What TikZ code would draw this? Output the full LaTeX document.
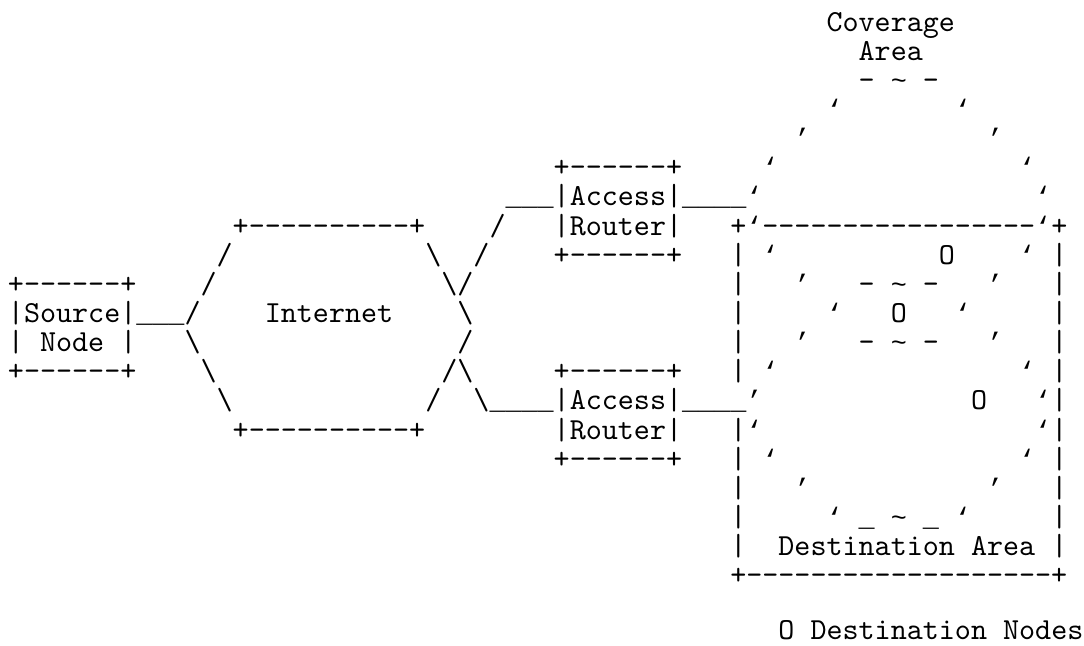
\documentclass[tikz,border=0pt]{standalone}
\usepackage{fontspec}
\setmonofont{lmmono10-regular}[Extension=.otf]
\newfontfamily\symfont{Liberation Mono}
% both faces advance 8.025pt per character at these sizes
\newcommand\sym[1]{{\symfont\fontsize{13.375pt}{14.575pt}\selectfont #1}}
\newcommand\us{\sym{\_}}
\newcommand\tl{\sym{\textasciitilde}}
\newcommand\ql{\sym{‘}}
\newcommand\qr{\sym{’}}
\tikzset{
  ascii/.style={anchor=base west, inner sep=0pt, outer sep=0pt,
    font=\ttfamily\fontsize{15.2857pt}{14.575pt}\selectfont, text=black}
}
% one run of characters at column #1, line #2
\newcommand\asc[4]{\node[ascii] (#3) at (#1,#2) {#4};}
\begin{document}
\begin{tikzpicture}[x=8.025pt, y=-14.575pt]
\fill[white] (-4pt,15.5pt) rectangle (538pt,-307pt);
\useasboundingbox (-4pt,15.5pt) rectangle (538pt,-307pt);

% coverage area of the upper access router
\asc{51}{0}{covTitle}{Coverage}
\asc{53}{1}{covTitleB}{Area}
\asc{53}{2}{covTop}{-\ \tl\ -}
\asc{51}{3}{covA}{\ql} \asc{59}{3}{covB}{\ql}
\asc{49}{4}{covC}{\qr} \asc{61}{4}{covD}{\qr}
\asc{47}{5}{covE}{\ql} \asc{63}{5}{covF}{\ql}
\asc{64}{6}{covG}{\ql}

% upper access router
\asc{34}{5}{arOneTop}{+------+}
\asc{31}{6}{arOneMid}{\us\us\us\textbar Access\textbar\us\us\us\us\ql}
\asc{34}{7}{arOneLow}{\textbar Router\textbar}
\asc{34}{8}{arOneBot}{+------+}

% internet cloud
\asc{14}{7}{netTop}{+----------+}
\asc{30}{7}{netLinkA}{/}
\asc{13}{8}{netL1}{/} \asc{26}{8}{netR1}{\textbackslash} \asc{29}{8}{netLinkB}{/}
\asc{12}{9}{netL2}{/} \asc{27}{9}{netR2}{\textbackslash/}
\asc{16}{10}{net}{Internet} \asc{28}{10}{netR3}{\textbackslash}
\asc{11}{11}{netL4}{\textbackslash} \asc{28}{11}{netR4}{/}
\asc{12}{12}{netL5}{\textbackslash} \asc{27}{12}{netR5}{/\textbackslash}
\asc{13}{13}{netL6}{\textbackslash} \asc{26}{13}{netR6}{/}
\asc{14}{14}{netBot}{+----------+}

% source node
\asc{0}{9}{srcTop}{+------+}
\asc{0}{10}{srcMid}{\textbar Source\textbar\us\us\us/}
\asc{0}{11}{srcLow}{\textbar\ Node\ \textbar}
\asc{0}{12}{srcBot}{+------+}

% lower access router
\asc{34}{12}{arTwoTop}{+------+}
\asc{29}{13}{arTwoMid}{\textbackslash\us\us\us\us\textbar Access\textbar\us\us\us\us\qr}
\asc{34}{14}{arTwoLow}{\textbar Router\textbar}
\asc{34}{15}{arTwoBot}{+------+}

% destination area box
\asc{45}{7}{dstTop}{+\ql-----------------\ql+}
\asc{45}{8}{dstL8}{\textbar} \asc{47}{8}{covH}{\ql} \asc{58}{8}{nodeA}{O} \asc{63}{8}{covI}{\ql} \asc{65}{8}{dstR8}{\textbar}
\asc{45}{9}{dstL9}{\textbar} \asc{49}{9}{covJ}{\qr} \asc{53}{9}{ringTop}{-\ \tl\ -} \asc{61}{9}{covK}{\qr} \asc{65}{9}{dstR9}{\textbar}
\asc{45}{10}{dstL10}{\textbar} \asc{51}{10}{ringL}{\ql} \asc{55}{10}{nodeB}{O} \asc{59}{10}{ringR}{\ql} \asc{65}{10}{dstR10}{\textbar}
\asc{45}{11}{dstL11}{\textbar} \asc{49}{11}{covL}{\qr} \asc{53}{11}{ringBot}{-\ \tl\ -} \asc{61}{11}{covM}{\qr} \asc{65}{11}{dstR11}{\textbar}
\asc{45}{12}{dstL12}{\textbar} \asc{47}{12}{areaA}{\ql} \asc{63}{12}{areaB}{\ql} \asc{65}{12}{dstR12}{\textbar}
\asc{60}{13}{nodeC}{O} \asc{64}{13}{dstR13}{\ql\textbar}
\asc{45}{14}{dstL14}{\textbar\ql} \asc{64}{14}{dstR14}{\ql\textbar}
\asc{45}{15}{dstL15}{\textbar} \asc{47}{15}{areaC}{\ql} \asc{63}{15}{areaD}{\ql} \asc{65}{15}{dstR15}{\textbar}
\asc{45}{16}{dstL16}{\textbar} \asc{49}{16}{areaE}{\qr} \asc{61}{16}{areaF}{\qr} \asc{65}{16}{dstR16}{\textbar}
\asc{45}{17}{dstL17}{\textbar} \asc{51}{17}{areaBot}{\ql\ \us\ \tl\ \us\ \ql} \asc{65}{17}{dstR17}{\textbar}
\asc{45}{18}{dstL18}{\textbar} \asc{48}{18}{dstLabel}{Destination Area} \asc{65}{18}{dstR18}{\textbar}
\asc{45}{19}{dstBot}{+-------------------+}

% legend
\asc{48}{20.88}{legend}{O Destination Nodes}
\end{tikzpicture}
\end{document}
